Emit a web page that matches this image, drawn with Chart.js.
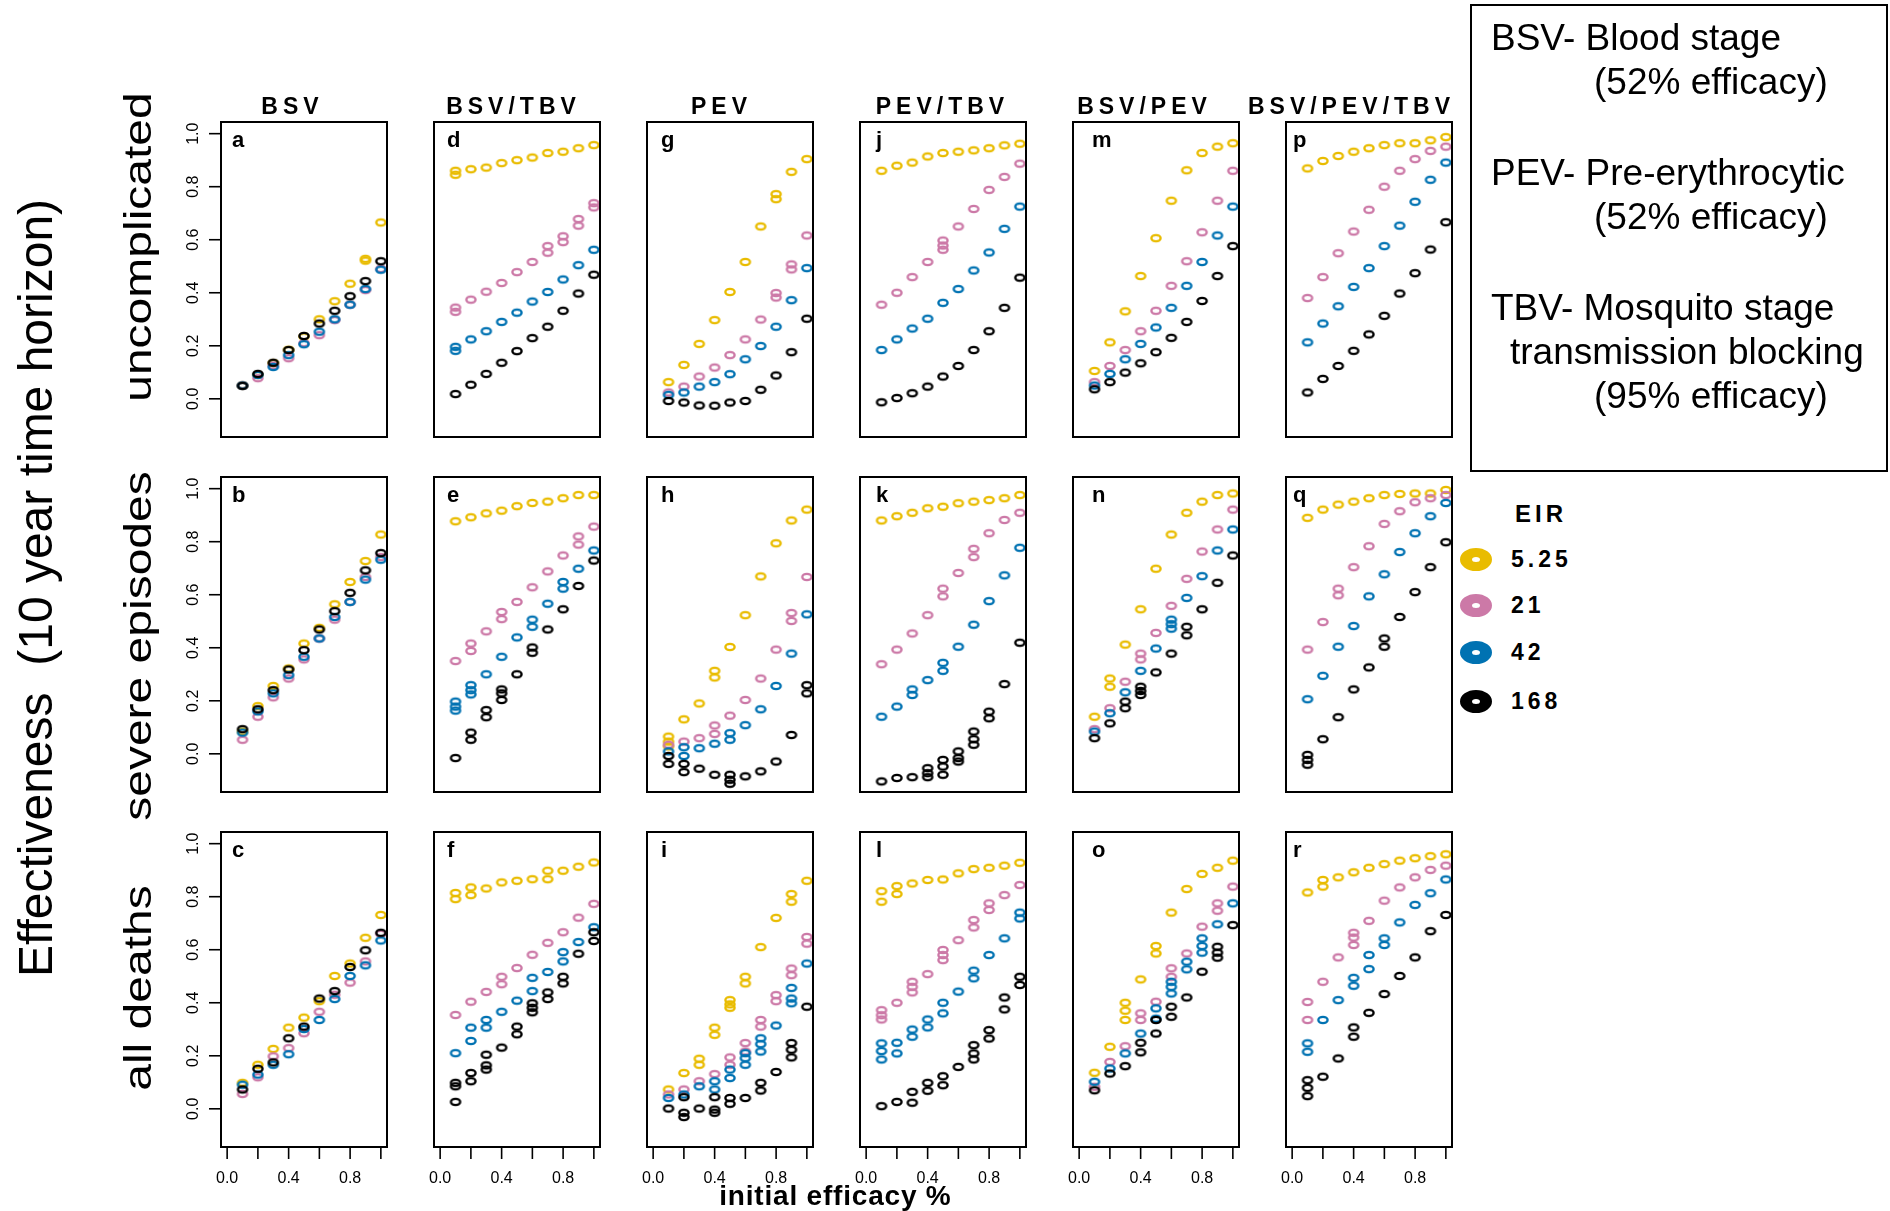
<!DOCTYPE html>
<html>
<head>
<meta charset="utf-8">
<script src="https://cdn.jsdelivr.net/npm/chart.js@4/dist/chart.umd.min.js"></script>
<style>
  html, body { margin:0; padding:0; background:#fff; }
  body { width:1890px; height:1211px; position:relative; overflow:hidden; font-family:"Liberation Sans", Arial, sans-serif; color:#000; }
  .t { position:absolute; white-space:pre; }
  canvas { position:absolute; }
</style>
</head>
<body>
<script>
// ---------------- DATA ----------------
const efficacy = [0.1,0.2,0.3,0.4,0.5,0.6,0.7,0.8,0.9,1.0];
const eirLabels = ['5.25','21','42','168'];
const columnTitles = ['BSV','BSV/TBV','PEV','PEV/TBV','BSV/PEV','BSV/PEV/TBV'];
const rowTitles = ['uncomplicated','severe episodes','all deaths'];
const yTickValues = [0,0.2,0.4,0.6,0.8,1.0];
const yTickLabels = ['0.0','0.2','0.4','0.6','0.8','1.0'];
const xTickValues = [0,0.2,0.4,0.6,0.8,1.0];
const xTickLabels = ['0.0','','0.4','','0.8',''];

// each panel: [EIR 5.25, EIR 21, EIR 42, EIR 168], one value per initial efficacy
// extra_*: additional replicate rings [EIR index, initial efficacy, effectiveness]
// row 1: uncomplicated
const panel_a = [
  [0.05,0.09,0.135,0.185,0.235,0.30,0.368,0.434,0.528,0.665],
  [0.05,0.078,0.125,0.153,0.21,0.24,0.297,0.355,0.41,0.49],
  [0.05,0.09,0.12,0.165,0.206,0.253,0.30,0.355,0.414,0.487],
  [0.049,0.094,0.136,0.184,0.237,0.284,0.332,0.387,0.444,0.519]];
const extra_a = [[0,0.9,0.521]];
const panel_d = [
  [0.86,0.866,0.872,0.889,0.90,0.91,0.927,0.932,0.945,0.957],
  [0.344,0.374,0.404,0.437,0.478,0.516,0.576,0.613,0.678,0.738],
  [0.196,0.224,0.255,0.29,0.325,0.367,0.403,0.45,0.504,0.562],
  [0.018,0.053,0.094,0.136,0.18,0.229,0.272,0.332,0.397,0.468]];
const extra_d = [[0,0.1,0.845],[1,0.1,0.328],[1,0.7,0.551],[1,0.8,0.591],[1,0.9,0.653],[1,1.0,0.722],[2,0.1,0.181]];
const panel_g = [
  [0.063,0.128,0.207,0.297,0.403,0.516,0.65,0.772,0.856,0.904],
  [0.024,0.046,0.084,0.118,0.165,0.224,0.299,0.399,0.507,0.616],
  [0.015,0.024,0.046,0.063,0.093,0.149,0.199,0.272,0.372,0.493],
  [-0.008,-0.014,-0.025,-0.026,-0.014,-0.008,0.034,0.088,0.176,0.302]];
const extra_g = [[0,0.8,0.753],[1,0.8,0.382],[1,0.9,0.488]];
const panel_j = [
  [0.86,0.879,0.891,0.914,0.927,0.932,0.937,0.945,0.956,0.962],
  [0.355,0.40,0.459,0.516,0.578,0.65,0.716,0.788,0.837,0.887],
  [0.184,0.224,0.265,0.302,0.362,0.414,0.484,0.552,0.641,0.725],
  [-0.013,0.003,0.021,0.046,0.084,0.124,0.184,0.255,0.343,0.457]];
const extra_j = [[1,0.5,0.597],[1,0.5,0.562]];
const panel_m = [
  [0.105,0.213,0.33,0.463,0.606,0.747,0.862,0.927,0.951,0.964],
  [0.063,0.124,0.184,0.255,0.332,0.426,0.519,0.628,0.747,0.86],
  [0.05,0.094,0.149,0.207,0.269,0.343,0.426,0.516,0.616,0.725],
  [0.036,0.063,0.099,0.134,0.176,0.23,0.29,0.369,0.463,0.576]];
const extra_m = [];
const panel_p = [
  [0.869,0.897,0.916,0.932,0.945,0.957,0.964,0.964,0.975,0.987],
  [0.38,0.459,0.549,0.631,0.713,0.80,0.86,0.904,0.935,0.951],
  [0.213,0.284,0.349,0.422,0.493,0.576,0.653,0.743,0.826,0.891],
  [0.024,0.075,0.124,0.181,0.243,0.313,0.397,0.474,0.563,0.666]];
const extra_p = [];
// row 2: severe episodes
const panel_b = [
  [0.084,0.18,0.256,0.322,0.416,0.475,0.564,0.648,0.727,0.827],
  [0.053,0.14,0.213,0.284,0.356,0.435,0.506,0.573,0.667,0.742],
  [0.08,0.16,0.228,0.297,0.366,0.435,0.516,0.573,0.657,0.732],
  [0.093,0.168,0.24,0.318,0.391,0.469,0.538,0.607,0.692,0.757]];
const extra_b = [];
const panel_e = [
  [0.877,0.892,0.907,0.917,0.934,0.946,0.951,0.964,0.976,0.976],
  [0.35,0.416,0.462,0.535,0.573,0.628,0.688,0.748,0.82,0.857],
  [0.178,0.24,0.30,0.366,0.439,0.506,0.566,0.648,0.698,0.767],
  [-0.016,0.08,0.165,0.228,0.30,0.401,0.469,0.545,0.633,0.729]];
const extra_e = [[1,0.2,0.388],[1,0.4,0.508],[1,0.9,0.789],[2,0.1,0.197],[2,0.1,0.163],[2,0.2,0.259],[2,0.2,0.224],
  [2,0.6,0.479],[2,0.8,0.623],[3,0.2,0.053],[3,0.3,0.138],[3,0.4,0.243],[3,0.4,0.203],[3,0.6,0.381]];
const panel_h = [
  [0.046,0.13,0.19,0.313,0.403,0.523,0.669,0.794,0.88,0.921],
  [0.034,0.046,0.059,0.107,0.144,0.203,0.284,0.393,0.531,0.667],
  [0.009,0.025,0.021,0.038,0.078,0.108,0.168,0.256,0.378,0.526],
  [-0.008,-0.038,-0.056,-0.079,-0.098,-0.085,-0.066,-0.029,0.071,0.259]];
const extra_h = [[0,0.1,0.065],[0,0.1,0.028],[0,0.4,0.288],[1,0.4,0.075],[1,0.9,0.501],[2,0.2,-0.008],[2,0.5,0.053],
  [3,0.1,-0.038],[3,0.2,-0.069],[3,0.5,-0.079],[3,0.5,-0.113],[3,1.0,0.228]];
const panel_k = [
  [0.88,0.896,0.909,0.926,0.932,0.945,0.951,0.957,0.964,0.976],
  [0.338,0.393,0.454,0.523,0.623,0.682,0.773,0.832,0.882,0.909],
  [0.14,0.178,0.243,0.278,0.343,0.404,0.487,0.576,0.673,0.777],
  [-0.104,-0.091,-0.088,-0.073,-0.048,-0.016,0.055,0.159,0.263,0.419]];
const extra_k = [[1,0.5,0.594],[1,0.7,0.742],[2,0.3,0.222],[2,0.5,0.313],[3,0.4,-0.054],[3,0.4,-0.088],[3,0.5,-0.023],
  [3,0.5,-0.079],[3,0.6,0.009],[3,0.6,-0.029],[3,0.7,0.084],[3,0.7,0.034],[3,0.8,0.134]];
const panel_n = [
  [0.14,0.284,0.412,0.545,0.698,0.827,0.909,0.951,0.976,0.982],
  [0.093,0.172,0.272,0.378,0.456,0.558,0.66,0.763,0.846,0.921],
  [0.084,0.153,0.232,0.313,0.397,0.489,0.588,0.67,0.767,0.846],
  [0.059,0.115,0.197,0.237,0.307,0.378,0.479,0.545,0.645,0.748]];
const extra_n = [[0,0.2,0.253],[1,0.4,0.356],[2,0.6,0.506],[2,0.6,0.472],[3,0.3,0.172],[3,0.4,0.253],[3,0.4,0.222],[3,0.7,0.447]];
const panel_q = [
  [0.89,0.921,0.94,0.951,0.964,0.976,0.98,0.982,0.982,0.995],
  [0.393,0.497,0.623,0.704,0.783,0.867,0.915,0.949,0.964,0.976],
  [0.206,0.294,0.404,0.482,0.594,0.677,0.761,0.832,0.896,0.946],
  [-0.023,0.055,0.138,0.243,0.326,0.435,0.516,0.61,0.704,0.798]];
const extra_q = [[1,0.3,0.598],[3,0.6,0.404],[3,0.1,-0.004],[3,0.1,-0.041]];
// row 3: all deaths
const panel_c = [
  [0.098,0.166,0.226,0.306,0.344,0.406,0.501,0.548,0.645,0.731],
  [0.056,0.119,0.198,0.229,0.285,0.366,0.43,0.476,0.556,0.66],
  [0.091,0.129,0.166,0.206,0.301,0.335,0.414,0.501,0.541,0.635],
  [0.073,0.151,0.175,0.266,0.31,0.416,0.444,0.535,0.598,0.664]];
const extra_c = [];
const panel_f = [
  [0.814,0.835,0.831,0.854,0.86,0.866,0.898,0.898,0.913,0.929],
  [0.354,0.404,0.441,0.498,0.531,0.581,0.626,0.666,0.721,0.773],
  [0.21,0.306,0.335,0.366,0.408,0.494,0.516,0.591,0.629,0.685],
  [0.098,0.135,0.204,0.231,0.31,0.398,0.439,0.498,0.585,0.666]];
const extra_f = [[0,0.1,0.791],[0,0.2,0.806],[0,0.7,0.866],[1,0.4,0.47],[2,0.2,0.256],[2,0.3,0.306],[2,0.6,0.444],
  [2,0.8,0.556],[3,0.1,0.085],[3,0.1,0.026],[3,0.2,0.104],[3,0.3,0.164],[3,0.3,0.148],[3,0.5,0.281],[3,0.6,0.381],
  [3,0.6,0.364],[3,0.7,0.414],[3,0.8,0.473],[3,1.0,0.633]];
const panel_i = [
  [0.073,0.135,0.189,0.306,0.41,0.498,0.61,0.72,0.81,0.86],
  [0.054,0.073,0.104,0.131,0.194,0.248,0.335,0.429,0.529,0.648],
  [0.041,0.054,0.085,0.104,0.148,0.21,0.266,0.314,0.456,0.548],
  [0.001,0.044,0.001,0.044,0.041,0.041,0.098,0.139,0.248,0.385]];
const extra_i = [[0,0.3,0.166],[0,0.4,0.279],[0,0.5,0.394],[0,0.5,0.381],[0,0.6,0.473],[0,0.9,0.781],[1,0.5,0.166],
  [1,0.6,0.216],[1,0.7,0.31],[1,0.8,0.406],[1,0.9,0.504],[1,1.0,0.623],[2,0.4,0.073],[2,0.5,0.116],[2,0.6,0.191],
  [2,0.6,0.166],[2,0.7,0.244],[2,0.7,0.216],[2,0.9,0.416],[2,0.9,0.398],[3,0.2,-0.015],[3,0.2,-0.031],[3,0.4,-0.003],
  [3,0.4,-0.015],[3,0.5,0.019],[3,0.7,0.069],[3,0.9,0.223],[3,0.9,0.194]];
const panel_l = [
  [0.821,0.84,0.85,0.863,0.865,0.888,0.904,0.909,0.917,0.928],
  [0.372,0.40,0.479,0.508,0.599,0.636,0.712,0.775,0.806,0.844],
  [0.247,0.249,0.299,0.337,0.40,0.442,0.521,0.58,0.643,0.74],
  [0.01,0.026,0.064,0.098,0.123,0.158,0.24,0.297,0.42,0.498]];
const extra_l = [[0,0.1,0.781],[0,0.2,0.81],[1,0.1,0.353],[1,0.1,0.337],[1,0.3,0.46],[1,0.3,0.439],[1,0.5,0.58],
  [1,0.5,0.561],[1,0.7,0.684],[1,0.8,0.75],[2,0.1,0.218],[2,0.1,0.186],[2,0.2,0.209],[2,0.3,0.272],[2,0.4,0.307],
  [2,0.5,0.36],[2,0.7,0.492],[2,1.0,0.718],[3,0.3,0.023],[3,0.4,0.068],[3,0.5,0.089],[3,0.7,0.209],[3,0.7,0.186],
  [3,0.8,0.265],[3,0.9,0.375],[3,1.0,0.467]];
const panel_o = [
  [0.136,0.234,0.40,0.488,0.614,0.74,0.829,0.886,0.909,0.936],
  [0.083,0.177,0.236,0.36,0.404,0.53,0.586,0.687,0.775,0.838],
  [0.102,0.152,0.209,0.284,0.379,0.479,0.555,0.643,0.696,0.775],
  [0.07,0.133,0.161,0.249,0.335,0.385,0.42,0.517,0.611,0.693]];
const extra_o = [[0,0.3,0.37],[0,0.3,0.335],[0,0.5,0.586],[1,0.4,0.335],[1,0.6,0.498],[1,0.9,0.747],[2,0.5,0.34],
  [2,0.6,0.46],[2,0.6,0.435],[2,0.7,0.526],[2,0.8,0.614],[2,0.8,0.589],[3,0.4,0.213],[3,0.5,0.284],[3,0.6,0.347],
  [3,0.9,0.589],[3,0.9,0.57]];
const panel_r = [
  [0.816,0.863,0.873,0.892,0.909,0.923,0.936,0.945,0.953,0.96],
  [0.403,0.479,0.571,0.664,0.709,0.785,0.835,0.873,0.901,0.917],
  [0.247,0.335,0.41,0.494,0.58,0.643,0.703,0.769,0.813,0.865],
  [0.108,0.121,0.19,0.307,0.362,0.433,0.501,0.571,0.67,0.731]];
const extra_r = [[0,0.2,0.838],[1,0.1,0.335],[1,0.4,0.646],[1,0.4,0.618],[2,0.1,0.215],[2,0.4,0.464],[2,0.5,0.527],
  [2,0.6,0.618],[3,0.1,0.079],[3,0.1,0.048],[3,0.4,0.272]];

// ---------------- LAYOUT / STYLE ----------------
const COLORS = ['#E9BC00','#CC79A7','#0072B2','#000000'];
const FONT = '"Liberation Sans", Arial, sans-serif';
const colLeft = [221,434,647,860,1073,1286];
const rowTop = [122,477,832];
const BOX_W = 166, BOX_H = 315;
const PAD = {left:40, right:6, top:6, bottom:50};
const grid = [
  [['a',panel_a,extra_a],['d',panel_d,extra_d],['g',panel_g,extra_g],['j',panel_j,extra_j],['m',panel_m,extra_m],['p',panel_p,extra_p]],
  [['b',panel_b,extra_b],['e',panel_e,extra_e],['h',panel_h,extra_h],['k',panel_k,extra_k],['n',panel_n,extra_n],['q',panel_q,extra_q]],
  [['c',panel_c,extra_c],['f',panel_f,extra_f],['i',panel_i,extra_i],['l',panel_l,extra_l],['o',panel_o,extra_o],['r',panel_r,extra_r]]
];
const letterOffset = [11,13,14,16,19,7];
const titleCenters = [290,511,719,940,1142,1349];

function addText(str, opts) {
  const d = document.createElement('div');
  d.className = 't';
  d.textContent = str;
  const s = opts.size;
  d.style.fontSize = s + 'px';
  d.style.lineHeight = s + 'px';
  d.style.fontWeight = opts.bold ? 'bold' : 'normal';
  if (opts.ls) d.style.letterSpacing = opts.ls + 'px';
  d.style.top = (opts.baseline - 0.8465 * s) + 'px';
  if (opts.center !== undefined) {
    d.style.left = (opts.center - 500) + 'px';
    d.style.width = '1000px';
    d.style.textAlign = 'center';
    d.style.boxSizing = 'border-box';
    if (opts.ls) d.style.paddingLeft = opts.ls + 'px';
  } else {
    d.style.left = opts.left + 'px';
  }
  document.body.appendChild(d);
  return d;
}
function addRotated(str, cx, cy, size, scaleT) {
  const d = document.createElement('div');
  d.className = 't';
  d.textContent = str;
  const W = 1000;
  d.style.fontSize = size + 'px';
  d.style.lineHeight = size + 'px';
  d.style.width = W + 'px';
  d.style.height = size + 'px';
  d.style.textAlign = 'center';
  d.style.left = (cx - W/2) + 'px';
  d.style.top = (cy - size/2) + 'px';
  d.style.transform = 'rotate(-90deg) scaleY(' + (scaleT || 1) + ')';
  document.body.appendChild(d);
}

function ringStyle(color) {
  const c = document.createElement('canvas');
  c.width = 16; c.height = 12;
  const g = c.getContext('2d');
  g.strokeStyle = color;
  g.lineWidth = 2.4;
  g.beginPath();
  g.ellipse(8, 6, 4.6, 3.1, 0, 0, Math.PI * 2);
  g.stroke();
  return c;
}
const ringImgs = COLORS.map(ringStyle);

const rAxes = {
  id: 'rAxes',
  afterDraw(chart, args, opts) {
    const ctx = chart.ctx, a = chart.chartArea, xs = chart.scales.x, ys = chart.scales.y;
    ctx.save();
    ctx.strokeStyle = '#000';
    ctx.lineWidth = 2;
    ctx.strokeRect(a.left, a.top, a.right - a.left, a.bottom - a.top);
    ctx.lineWidth = 1.6;
    ctx.fillStyle = '#000';
    ctx.font = '16px ' + FONT;
    if (opts.showY) {
      yTickValues.forEach((v, i) => {
        const py = ys.getPixelForValue(v);
        ctx.beginPath(); ctx.moveTo(a.left - 12, py); ctx.lineTo(a.left, py); ctx.stroke();
        ctx.save();
        ctx.translate(a.left - 27, py);
        ctx.rotate(-Math.PI / 2);
        ctx.textAlign = 'center'; ctx.textBaseline = 'middle';
        ctx.fillText(yTickLabels[i], 0, 0);
        ctx.restore();
      });
    }
    if (opts.showX) {
      xTickValues.forEach((v, i) => {
        const px = xs.getPixelForValue(v);
        ctx.beginPath(); ctx.moveTo(px, a.bottom); ctx.lineTo(px, a.bottom + 12); ctx.stroke();
        if (xTickLabels[i]) {
          ctx.textAlign = 'center'; ctx.textBaseline = 'middle';
          ctx.fillText(xTickLabels[i], px, a.bottom + 32);
        }
      });
    }
    ctx.restore();
  }
};

grid.forEach((row, r) => {
  row.forEach(([letter, series, extras], c) => {
    const cv = document.createElement('canvas');
    const w = BOX_W + PAD.left + PAD.right, h = BOX_H + PAD.top + PAD.bottom;
    cv.width = w; cv.height = h;
    cv.style.left = (colLeft[c] - PAD.left) + 'px';
    cv.style.top = (rowTop[r] - PAD.top) + 'px';
    cv.style.width = w + 'px'; cv.style.height = h + 'px';
    document.body.appendChild(cv);
    const datasets = [];
    series.forEach((vals, k) => {
      datasets.push({
        label: eirLabels[k],
        data: efficacy.map((x, i) => ({x: x, y: vals[i]})),
        pointStyle: ringImgs[k], pointRadius: 5, showLine: false, order: 4 - k, clip: false
      });
      const ex = extras.filter(e => e[0] === k).map(e => ({x: e[1], y: e[2]}));
      if (ex.length) datasets.push({
        label: eirLabels[k] + ' replicate',
        data: ex,
        pointStyle: ringImgs[k], pointRadius: 5, showLine: false, order: 4 - k, clip: false
      });
    });
    new Chart(cv, {
      type: 'scatter',
      data: {datasets: datasets},
      options: {
        responsive: false,
        animation: false,
        devicePixelRatio: 1,
        events: [],
        layout: {padding: PAD},
        scales: {
          x: {type: 'linear', min: -0.04, max: 1.04, display: false},
          y: {type: 'linear', min: -0.144, max: 1.044, display: false}
        },
        plugins: {
          legend: {display: false},
          tooltip: {enabled: false},
          rAxes: {showY: c === 0, showX: r === 2}
        }
      },
      plugins: [rAxes]
    });
    addText(letter, {left: colLeft[c] + letterOffset[c], baseline: rowTop[r] + 26, size: 22, bold: true});
  });
});

// column titles
columnTitles.forEach((t, c) => addText(t, {center: titleCenters[c], baseline: 114, size: 23, bold: true, ls: 5}));
// row titles
const rowCenters = [247, 646, 988];
rowTitles.forEach((t, r) => addRotated(t, 138, rowCenters[r], 48, 0.82));
addRotated('Effectiveness  (10 year time horizon)', 35.5, 588, 48, 1);
// x axis title
addText('initial efficacy %', {center: 835, baseline: 1206, size: 28, bold: true, ls: 0.8});

// description box
const box = document.createElement('div');
box.style.cssText = 'position:absolute;left:1470px;top:4px;width:418px;height:468px;border:2px solid #000;box-sizing:border-box;';
document.body.appendChild(box);
const descLines = [
  ['BSV- Blood stage', 1491, 50],
  ['(52% efficacy)', 1594, 94],
  ['PEV- Pre-erythrocytic', 1491, 185],
  ['(52% efficacy)', 1594, 229],
  ['TBV- Mosquito stage', 1491, 320],
  ['transmission blocking', 1510, 364],
  ['(95% efficacy)', 1594, 408]
];
descLines.forEach(([t, x, b]) => addText(t, {left: x, baseline: b, size: 37}));

// EIR legend
addText('EIR', {left: 1515, baseline: 522, size: 24, bold: true, ls: 4});
const legY = [559, 605, 652, 701];
eirLabels.forEach((lab, k) => {
  const m = document.createElement('div');
  m.style.cssText = 'position:absolute;box-sizing:border-box;width:32px;height:23px;border-radius:50%;' +
    'border-style:solid;border-color:' + COLORS[k] + ';border-width:9px 12px;left:' + (1476 - 16) + 'px;top:' + (legY[k] - 11.5) + 'px;';
  document.body.appendChild(m);
  addText(lab, {left: 1511, baseline: legY[k] + 8.3, size: 23, bold: true, ls: 4});
});
</script>
</body>
</html>
